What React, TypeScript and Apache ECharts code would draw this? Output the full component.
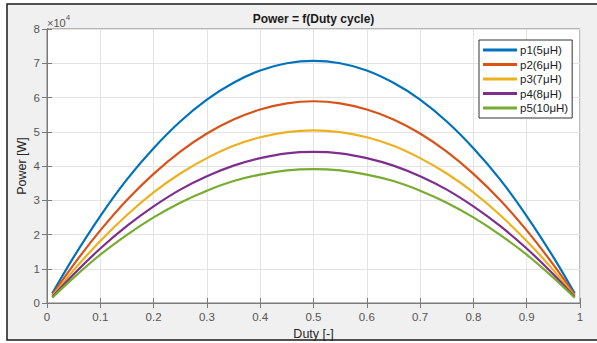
import React, { useEffect, useRef } from "react";
import * as echarts from "echarts";

const duty = [0.01, 0.05, 0.1, 0.15, 0.2, 0.25, 0.3, 0.35, 0.4, 0.45, 0.5, 0.55, 0.6, 0.65, 0.7, 0.75, 0.8, 0.85, 0.9, 0.95, 0.99];
const seriesNames = ["p1(5μH)", "p2(6μH)", "p3(7μH)", "p4(8μH)", "p5(10μH)"];
const p1 = [2800, 13400, 25400, 36100, 45200, 53000, 59400, 64300, 67900, 70000, 70700, 70000, 67900, 64300, 59400, 53000, 45200, 36100, 25400, 13400, 2800];
const p2 = [2300, 11200, 21200, 30100, 37700, 44200, 49500, 53600, 56500, 58300, 58900, 58300, 56500, 53600, 49500, 44200, 37700, 30100, 21200, 11200, 2300];
const p3 = [2000, 9600, 18100, 25700, 32300, 37800, 42300, 45900, 48400, 49900, 50400, 49900, 48400, 45900, 42300, 37800, 32300, 25700, 18100, 9600, 2000];
const p4 = [1750, 8400, 15900, 22500, 28200, 33100, 37000, 40100, 42300, 43700, 44100, 43700, 42300, 40100, 37000, 33100, 28200, 22500, 15900, 8400, 1750];
const p5 = [1550, 7400, 14100, 19900, 25000, 29300, 32800, 35600, 37500, 38700, 39100, 38700, 37500, 35600, 32800, 29300, 25000, 19900, 14100, 7400, 1550];
const seriesValues = [p1, p2, p3, p4, p5];
const colors = ["#0072BD", "#D95319", "#EDB120", "#7E2F8E", "#77AC30"];

export default function App() {
  const ref = useRef<HTMLDivElement>(null);
  useEffect(() => {
    document.body.style.margin = "0";
    const chart = echarts.init(ref.current!, null, { renderer: "svg" });
    const font = "'Liberation Sans', Arial, sans-serif";
    const axisColor = "#7a7a7a";
    const labelColor = "#555555";
    chart.setOption({
      animation: false,
      backgroundColor: "#ffffff",
      textStyle: { fontFamily: font },
      graphic: [
        {
          type: "rect",
          z: -10,
          silent: true,
          shape: { x: 7, y: 4, width: 600, height: 336 },
          style: { fill: "#f0f0f0", stroke: "#1a1a1a", lineWidth: 1.5 },
        },
        {
          type: "text",
          x: 313.5,
          y: 19,
          style: {
            text: "Power = f(Duty cycle)",
            fill: "#1a1a1a",
            font: `bold 12px ${font}`,
            textAlign: "center",
            textVerticalAlign: "middle",
          },
        },
        {
          type: "text",
          x: 47,
          y: 28,
          style: {
            text: "{a|×10}{b|4}",
            textVerticalAlign: "bottom",
            rich: {
              a: { fontSize: 11, fill: labelColor, fontFamily: font, verticalAlign: "bottom" },
              b: { fontSize: 8, fill: labelColor, fontFamily: font, verticalAlign: "top", padding: [0, 0, 7, 0] },
            },
          },
        },
      ],
      grid: {
        left: 47,
        top: 29,
        right: 17,
        bottom: 40,
        show: true,
        containLabel: false,
        outerBoundsMode: "none",
        backgroundColor: "#ffffff",
        borderColor: axisColor,
        borderWidth: 1,
      },
      legend: {
        orient: "vertical",
        left: 479,
        top: 40,
        backgroundColor: "#ffffff",
        borderColor: "#333333",
        borderWidth: 1,
        borderRadius: 0,
        padding: [4, 4, 4, 4],
        itemGap: 2.5,
        itemWidth: 34,
        itemHeight: 3,
        icon: "rect",
        textStyle: { fontSize: 11.5, color: "#1a1a1a", fontFamily: font, padding: [0, 0, 0, -2] },
        data: seriesNames,
      },
      xAxis: [
        {
          type: "value",
          min: 0,
          max: 1,
          interval: 0.1,
          name: "Duty [-]",
          nameLocation: "middle",
          nameGap: 24,
          nameMoveOverlap: false,
          nameTextStyle: { fontSize: 12.5, color: "#262626", fontFamily: font },
          axisLine: { show: true, lineStyle: { color: axisColor } },
          axisTick: { show: true, inside: true, length: 5, lineStyle: { color: axisColor } },
          axisLabel: {
            color: labelColor,
            fontSize: 11.5,
            margin: 8,
            formatter: (v: number) => String(Math.round(v * 10) / 10),
          },
          splitLine: { show: true, lineStyle: { color: "#e3e3e3" } },
        },
        {
          type: "value",
          position: "top",
          min: 0,
          max: 1,
          interval: 0.1,
          axisLine: { show: true, lineStyle: { color: axisColor } },
          axisTick: { show: true, inside: true, length: 5, lineStyle: { color: axisColor } },
          axisLabel: { show: false },
          splitLine: { show: false },
        },
      ],
      yAxis: [
        {
          type: "value",
          min: 0,
          max: 80000,
          interval: 10000,
          name: "Power [W]",
          nameLocation: "middle",
          nameGap: 19,
          nameMoveOverlap: false,
          nameTextStyle: { fontSize: 12.5, color: "#262626", fontFamily: font },
          axisLine: { show: true, lineStyle: { color: axisColor } },
          axisTick: { show: true, inside: true, length: 5, lineStyle: { color: axisColor } },
          axisLabel: {
            color: labelColor,
            fontSize: 11.5,
            margin: 7,
            formatter: (v: number) => String(Math.round(v / 10000)),
          },
          splitLine: { show: true, lineStyle: { color: "#e3e3e3" } },
        },
        {
          type: "value",
          position: "right",
          min: 0,
          max: 80000,
          interval: 10000,
          axisLine: { show: true, lineStyle: { color: axisColor } },
          axisTick: { show: true, inside: true, length: 5, lineStyle: { color: axisColor } },
          axisLabel: { show: false },
          splitLine: { show: false },
        },
      ],
      series: seriesValues.map((vals, i) => ({
        name: seriesNames[i],
        type: "line",
        xAxisIndex: 0,
        yAxisIndex: 0,
        smooth: 0.4,
        showSymbol: false,
        symbol: "none",
        color: colors[i],
        lineStyle: { width: 2.2, color: colors[i] },
        data: duty.map((d, j) => [d, vals[j]]),
      })),
    });
    return () => chart.dispose();
  }, []);
  return <div ref={ref} style={{ width: 597, height: 343 }} />;
}
